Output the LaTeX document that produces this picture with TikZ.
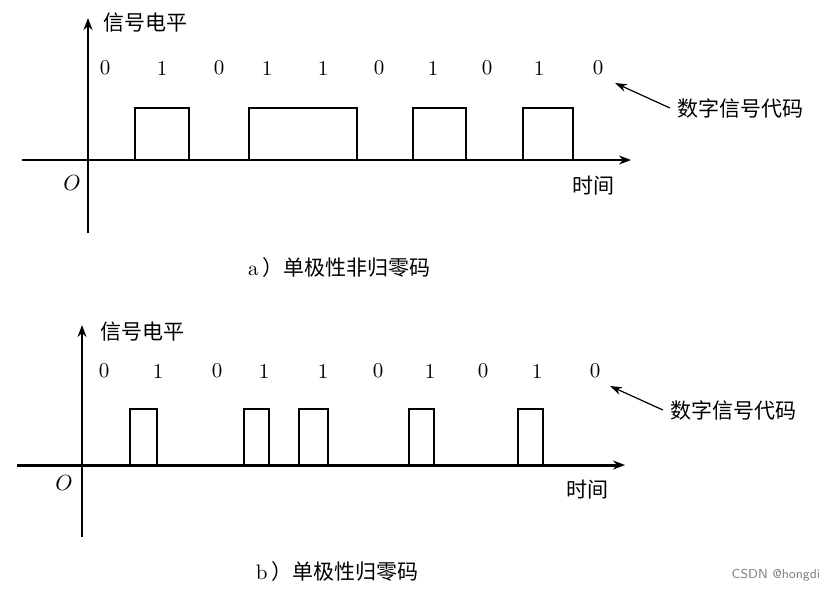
\documentclass[tikz,border=0pt]{standalone}
\usepackage{fontspec}
\newfontfamily\cjk{Noto Sans CJK SC}
\usetikzlibrary{arrows.meta,positioning}

\begin{document}
\begin{tikzpicture}[x=0.5pt,y=-0.5pt,every node/.style={font=\fontsize{10.5}{12}\selectfont},
    axis/.style={line width=0.9pt,-{Stealth[length=6pt,width=4.5pt]}},
    wave/.style={line width=1.1pt,line join=miter},
    pointer/.style={line width=0.6pt,-{Stealth[length=6pt,width=4pt]}}]
  \useasboundingbox (0,0) rectangle (828,591);
  % a) unipolar NRZ
  \coordinate (ya-bot) at (88,233);
  \coordinate (ya-top) at (88,18);
  \coordinate (xa-left) at (22,160);
  \coordinate (xa-right) at (631,160);
  \draw[axis] (ya-bot) -- (ya-top);
  \draw[axis,line width=1.1pt] (xa-left) -- (xa-right);
  \draw[wave] (88,160) -- (135,160) -- (135,108) -- (189,108) -- (189,160) -- (249,160) -- (249,108) -- (357,108) -- (357,160)
    -- (413,160) -- (413,108) -- (466,108) -- (466,160) -- (523,160) -- (523,108) -- (573,108) -- (573,160);
  \foreach \x/\b [count=\i] in {105/0,162/1,219/0,267/1,323/1,379/0,433/1,487/0,539/1,598/0}
    \node (bita\i) at (\x,68) {\b};
  \node (levela) at (145,23) {\cjk 信号电平};
  \node (oria) at (72,183) {$O$};
  \node (timea) at (593,186) {\cjk 时间};
  \node (codea) at (740,108) {\cjk 数字信号代码};
  \coordinate (tipa) at (615,83);
  \draw[pointer] (codea.west) -- (tipa);
  \node (capa) at (339,268) {a\,{\cjk ）单极性非归零码}};
  % b) unipolar RZ
  \coordinate (yb-bot) at (82,537);
  \coordinate (yb-top) at (82,325);
  \coordinate (xb-left) at (17,465);
  \coordinate (xb-right) at (625,465);
  \draw[axis,line width=0.7pt] (yb-bot) -- (yb-top);
  \draw[axis,line width=1.5pt] (xb-left) -- (xb-right);
  \draw[wave,line width=0.9pt] (82,465) -- (130,465) -- (130,409) -- (157,409) -- (157,465) -- (244,465) -- (244,409) -- (269,409) -- (269,465)
    -- (299,465) -- (299,409) -- (328,409) -- (328,465) -- (409,465) -- (409,409) -- (434,409) -- (434,465)
    -- (518,465) -- (518,409) -- (543,409) -- (543,465);
  \foreach \x/\b [count=\i] in {104/0,158/1,217/0,264/1,323/1,378/0,430/1,483/0,537/1,595/0}
    \node (bitb\i) at (\x,371) {\b};
  \node (levelb) at (142,332) {\cjk 信号电平};
  \node (orib) at (64,483) {$O$};
  \node (timeb) at (587,490) {\cjk 时间};
  \node (codeb) at (733,410) {\cjk 数字信号代码};
  \coordinate (tipb) at (610,386);
  \draw[pointer] (codeb.west) -- (tipb);
  \node (capb) at (337,572) {b\,{\cjk ）单极性归零码}};
  \node[font=\sffamily\fontsize{6.5}{8}\selectfont,text=gray] (mark) at (776,575) {CSDN @hongdi};
\end{tikzpicture}
\end{document}
